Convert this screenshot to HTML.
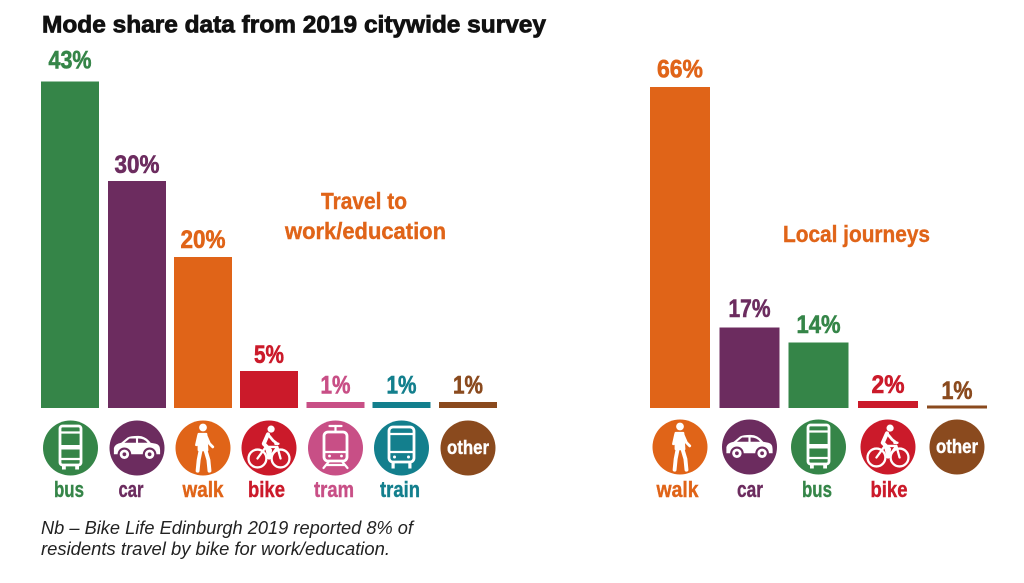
<!DOCTYPE html>
<html>
<head>
<meta charset="utf-8">
<style>
  html,body{margin:0;padding:0;background:#fff;}
  svg{display:block;}
  text{font-family:"Liberation Sans",sans-serif;}
  .num{font-weight:bold;font-size:25px;stroke-width:0.6;}
  .lab{font-weight:bold;font-size:22px;stroke-width:0.4;}
</style>
</head>
<body>
<svg width="1024" height="583" viewBox="0 0 1024 583" xmlns="http://www.w3.org/2000/svg">
  <defs>
    <g id="i-bus">
      <rect x="-10.5" y="-22" width="21" height="39" rx="2.5" fill="none" stroke="#fff" stroke-width="2.8"/>
      <line x1="-10.5" y1="-15.5" x2="10.5" y2="-15.5" stroke="#fff" stroke-width="2.2"/>
      <rect x="-10.5" y="-3" width="21" height="4.5" fill="#fff"/>
      <line x1="-10.5" y1="11" x2="10.5" y2="11" stroke="#fff" stroke-width="2.2"/>
      <rect x="-8.5" y="16" width="3.8" height="5.5" fill="#fff"/>
      <rect x="4.7" y="16" width="3.8" height="5.5" fill="#fff"/>
    </g>
    <g id="i-car" transform="scale(1.05)">
      <path d="M-22,6 L-22,0 Q-21,-4 -15,-5 L-9,-10 Q-6,-11.5 1,-11.5 Q8,-11.5 13,-5 L18,-4 Q22,-3 22,2 L22,6 Z" fill="#fff"/>
      <path d="M-12,-5 L-7,-9 L-1,-9 L-1,-5 Z" fill="#6c2c5f"/>
      <path d="M1,-5 L1,-9 Q7,-9 10,-5 Z" fill="#6c2c5f"/>
      <circle cx="-12" cy="6" r="5.5" fill="#fff" stroke="#6c2c5f" stroke-width="2"/>
      <circle cx="12" cy="6" r="5.5" fill="#fff" stroke="#6c2c5f" stroke-width="2"/>
      <circle cx="-12" cy="6" r="1.8" fill="#6c2c5f"/>
      <circle cx="12" cy="6" r="1.8" fill="#6c2c5f"/>
    </g>
    <g id="i-walk" fill="#fff" stroke="#fff" stroke-linecap="round" stroke-linejoin="round" transform="scale(1.08)">
      <circle cx="0" cy="-19" r="3.6" stroke="none"/>
      <path d="M-4,-13 L3,-13 L4,2 L-4,2 Z" stroke-width="2"/>
      <path d="M3,-11 L6,-4 L9,-1" fill="none" stroke-width="2.6"/>
      <path d="M-4,-12 L-6,-3" fill="none" stroke-width="2.6"/>
      <path d="M-2,1 L-4,11 L-5,21" fill="none" stroke-width="3.6"/>
      <path d="M2,1 L5,11 L6,21" fill="none" stroke-width="3.6"/>
    </g>
    <g id="i-bike" fill="none" stroke="#fff" stroke-linecap="round" stroke-linejoin="round" transform="scale(1.05)">
      <circle cx="-11" cy="10" r="8.5" stroke-width="2.2"/>
      <circle cx="11" cy="10" r="8.5" stroke-width="2.2"/>
      <path d="M-11,10 L-3,-1 L8,-1 L11,10 M-3,-1 L0,10 L8,-1 M6,-4 L9,-4" stroke-width="2.2"/>
      <circle cx="2" cy="-18" r="3.4" fill="#fff" stroke="none"/>
      <path d="M-1,-13 L-5,-4 L1,2 L0,9" stroke-width="3.8"/>
      <path d="M-1,-13 L4,-7 L8,-4" stroke-width="2.6"/>
    </g>
    <g id="i-tram" fill="none" stroke="#fff" stroke-linecap="round" stroke-linejoin="round">
      <line x1="-6" y1="-22" x2="6" y2="-22" stroke-width="2.2"/>
      <line x1="0" y1="-22" x2="0" y2="-16" stroke-width="2.2"/>
      <rect x="-11.5" y="-16" width="23" height="29" rx="4" stroke-width="2.8"/>
      <line x1="-11" y1="4" x2="11" y2="4" stroke-width="2.2"/>
      <circle cx="-6" cy="8" r="1.4" fill="#fff" stroke="none"/>
      <circle cx="6" cy="8" r="1.4" fill="#fff" stroke="none"/>
      <path d="M-7,14 L-12,20 M7,14 L12,20 M-9,17 L9,17" stroke-width="2.2"/>
    </g>
    <g id="i-train" fill="none" stroke="#fff" stroke-linecap="round" stroke-linejoin="round">
      <rect x="-12.5" y="-21" width="25" height="35" rx="4" stroke-width="2.8"/>
      <line x1="-12" y1="-14" x2="12" y2="-14" stroke-width="2.2"/>
      <line x1="-12" y1="4" x2="12" y2="4" stroke-width="2.2"/>
      <circle cx="-7" cy="9" r="1.5" fill="#fff" stroke="none"/>
      <circle cx="7" cy="9" r="1.5" fill="#fff" stroke="none"/>
      <rect x="-10" y="15" width="3.2" height="5.5" fill="#fff" stroke="none"/>
      <rect x="6.8" y="15" width="3.2" height="5.5" fill="#fff" stroke="none"/>
    </g>
  </defs>

  <!-- Title -->
  <text x="42" y="32.5" font-size="24" font-weight="bold" fill="#111" stroke="#111" stroke-width="0.8" textLength="504" lengthAdjust="spacingAndGlyphs">Mode share data from 2019 citywide survey</text>

  <!-- LEFT CHART bars -->
  <rect x="41" y="81.5" width="58" height="326.5" fill="#358548"/>
  <rect x="108" y="181" width="58" height="227" fill="#6c2c5f"/>
  <rect x="174" y="257" width="58" height="151" fill="#e06418"/>
  <rect x="240" y="371" width="58" height="37" fill="#cb1a2a"/>
  <rect x="306.5" y="402" width="58" height="6" fill="#c84f86"/>
  <rect x="372.5" y="402" width="58" height="6" fill="#137f8d"/>
  <rect x="439" y="402" width="58" height="6" fill="#8a4a1e"/>

  <!-- left numbers -->
  <text class="num" x="70" y="68.5" text-anchor="middle" fill="#358548" stroke="#358548" textLength="43" lengthAdjust="spacingAndGlyphs">43%</text>
  <text class="num" x="137" y="173" text-anchor="middle" fill="#6c2c5f" stroke="#6c2c5f" textLength="45" lengthAdjust="spacingAndGlyphs">30%</text>
  <text class="num" x="203" y="248" text-anchor="middle" fill="#e06418" stroke="#e06418" textLength="45" lengthAdjust="spacingAndGlyphs">20%</text>
  <text class="num" x="269" y="363" text-anchor="middle" fill="#cb1a2a" stroke="#cb1a2a" textLength="30" lengthAdjust="spacingAndGlyphs">5%</text>
  <text class="num" x="335.5" y="393.5" text-anchor="middle" fill="#c84f86" stroke="#c84f86" textLength="30" lengthAdjust="spacingAndGlyphs">1%</text>
  <text class="num" x="401.5" y="393.5" text-anchor="middle" fill="#137f8d" stroke="#137f8d" textLength="30" lengthAdjust="spacingAndGlyphs">1%</text>
  <text class="num" x="468" y="393.5" text-anchor="middle" fill="#8a4a1e" stroke="#8a4a1e" textLength="30" lengthAdjust="spacingAndGlyphs">1%</text>

  <!-- Travel to work/education -->
  <text x="364" y="209" text-anchor="middle" font-size="23" font-weight="bold" fill="#e06418" stroke="#e06418" stroke-width="0.4" textLength="86" lengthAdjust="spacingAndGlyphs">Travel to</text>
  <text x="365.5" y="239" text-anchor="middle" font-size="23" font-weight="bold" fill="#e06418" stroke="#e06418" stroke-width="0.4" textLength="161" lengthAdjust="spacingAndGlyphs">work/education</text>

  <!-- left icons -->
  <g transform="translate(70.5,448)"><circle r="27.5" fill="#358548"/><use href="#i-bus"/></g>
  <g transform="translate(137,448)"><circle r="27.5" fill="#6c2c5f"/><use href="#i-car"/></g>
  <g transform="translate(203,448)"><circle r="27.5" fill="#e06418"/><use href="#i-walk"/></g>
  <g transform="translate(269,448)"><circle r="27.5" fill="#cb1a2a"/><use href="#i-bike"/></g>
  <g transform="translate(335.5,448)"><circle r="27.5" fill="#c84f86"/><use href="#i-tram"/></g>
  <g transform="translate(401.5,448)"><circle r="27.5" fill="#137f8d"/><use href="#i-train"/></g>
  <g transform="translate(468,448)"><circle r="27.5" fill="#8a4a1e"/>
    <text x="0" y="6" text-anchor="middle" font-size="19" font-weight="bold" fill="#fff" stroke="#fff" stroke-width="0.4" textLength="42" lengthAdjust="spacingAndGlyphs">other</text></g>

  <!-- left labels -->
  <text class="lab" x="69" y="497" text-anchor="middle" fill="#358548" stroke="#358548" textLength="30" lengthAdjust="spacingAndGlyphs">bus</text>
  <text class="lab" x="131" y="497" text-anchor="middle" fill="#6c2c5f" stroke="#6c2c5f" textLength="25" lengthAdjust="spacingAndGlyphs">car</text>
  <text class="lab" x="203" y="497" text-anchor="middle" fill="#e06418" stroke="#e06418" textLength="41" lengthAdjust="spacingAndGlyphs">walk</text>
  <text class="lab" x="266.5" y="497" text-anchor="middle" fill="#cb1a2a" stroke="#cb1a2a" textLength="37" lengthAdjust="spacingAndGlyphs">bike</text>
  <text class="lab" x="334" y="497" text-anchor="middle" fill="#c84f86" stroke="#c84f86" textLength="40" lengthAdjust="spacingAndGlyphs">tram</text>
  <text class="lab" x="400" y="497" text-anchor="middle" fill="#137f8d" stroke="#137f8d" textLength="40" lengthAdjust="spacingAndGlyphs">train</text>

  <!-- RIGHT CHART bars -->
  <rect x="650" y="87" width="60" height="321" fill="#e06418"/>
  <rect x="719.5" y="327.5" width="60" height="80.5" fill="#6c2c5f"/>
  <rect x="788.5" y="342.5" width="60" height="65.5" fill="#358548"/>
  <rect x="858" y="401" width="60" height="7" fill="#cb1a2a"/>
  <rect x="927" y="405.5" width="60" height="3" fill="#8a4a1e"/>

  <!-- right numbers -->
  <text class="num" x="680" y="77.5" text-anchor="middle" fill="#e06418" stroke="#e06418" textLength="46" lengthAdjust="spacingAndGlyphs">66%</text>
  <text class="num" x="749.5" y="317" text-anchor="middle" fill="#6c2c5f" stroke="#6c2c5f" textLength="42" lengthAdjust="spacingAndGlyphs">17%</text>
  <text class="num" x="818.5" y="333" text-anchor="middle" fill="#358548" stroke="#358548" textLength="44" lengthAdjust="spacingAndGlyphs">14%</text>
  <text class="num" x="888" y="393" text-anchor="middle" fill="#cb1a2a" stroke="#cb1a2a" textLength="33" lengthAdjust="spacingAndGlyphs">2%</text>
  <text class="num" x="957" y="399" text-anchor="middle" fill="#8a4a1e" stroke="#8a4a1e" textLength="31" lengthAdjust="spacingAndGlyphs">1%</text>

  <!-- Local journeys -->
  <text x="856.5" y="242" text-anchor="middle" font-size="23" font-weight="bold" fill="#e06418" stroke="#e06418" stroke-width="0.4" textLength="147" lengthAdjust="spacingAndGlyphs">Local journeys</text>

  <!-- right icons -->
  <g transform="translate(680,447)"><circle r="27.5" fill="#e06418"/><use href="#i-walk"/></g>
  <g transform="translate(749.5,447)"><circle r="27.5" fill="#6c2c5f"/><use href="#i-car"/></g>
  <g transform="translate(818.5,447)"><circle r="27.5" fill="#358548"/><use href="#i-bus"/></g>
  <g transform="translate(888,447)"><circle r="27.5" fill="#cb1a2a"/><use href="#i-bike"/></g>
  <g transform="translate(957,447)"><circle r="27.5" fill="#8a4a1e"/>
    <text x="0" y="6" text-anchor="middle" font-size="19" font-weight="bold" fill="#fff" stroke="#fff" stroke-width="0.4" textLength="42" lengthAdjust="spacingAndGlyphs">other</text></g>

  <!-- right labels -->
  <text class="lab" x="677.5" y="497" text-anchor="middle" fill="#e06418" stroke="#e06418" textLength="42" lengthAdjust="spacingAndGlyphs">walk</text>
  <text class="lab" x="750" y="497" text-anchor="middle" fill="#6c2c5f" stroke="#6c2c5f" textLength="26" lengthAdjust="spacingAndGlyphs">car</text>
  <text class="lab" x="817" y="497" text-anchor="middle" fill="#358548" stroke="#358548" textLength="30" lengthAdjust="spacingAndGlyphs">bus</text>
  <text class="lab" x="889" y="497" text-anchor="middle" fill="#cb1a2a" stroke="#cb1a2a" textLength="37" lengthAdjust="spacingAndGlyphs">bike</text>

  <!-- Footnote -->
  <text x="41" y="534" font-size="18" font-style="italic" fill="#222" textLength="372" lengthAdjust="spacingAndGlyphs">Nb – Bike Life Edinburgh 2019 reported 8% of</text>
  <text x="41" y="555" font-size="18" font-style="italic" fill="#222" textLength="349" lengthAdjust="spacingAndGlyphs">residents travel by bike for work/education.</text>
</svg>
</body>
</html>
